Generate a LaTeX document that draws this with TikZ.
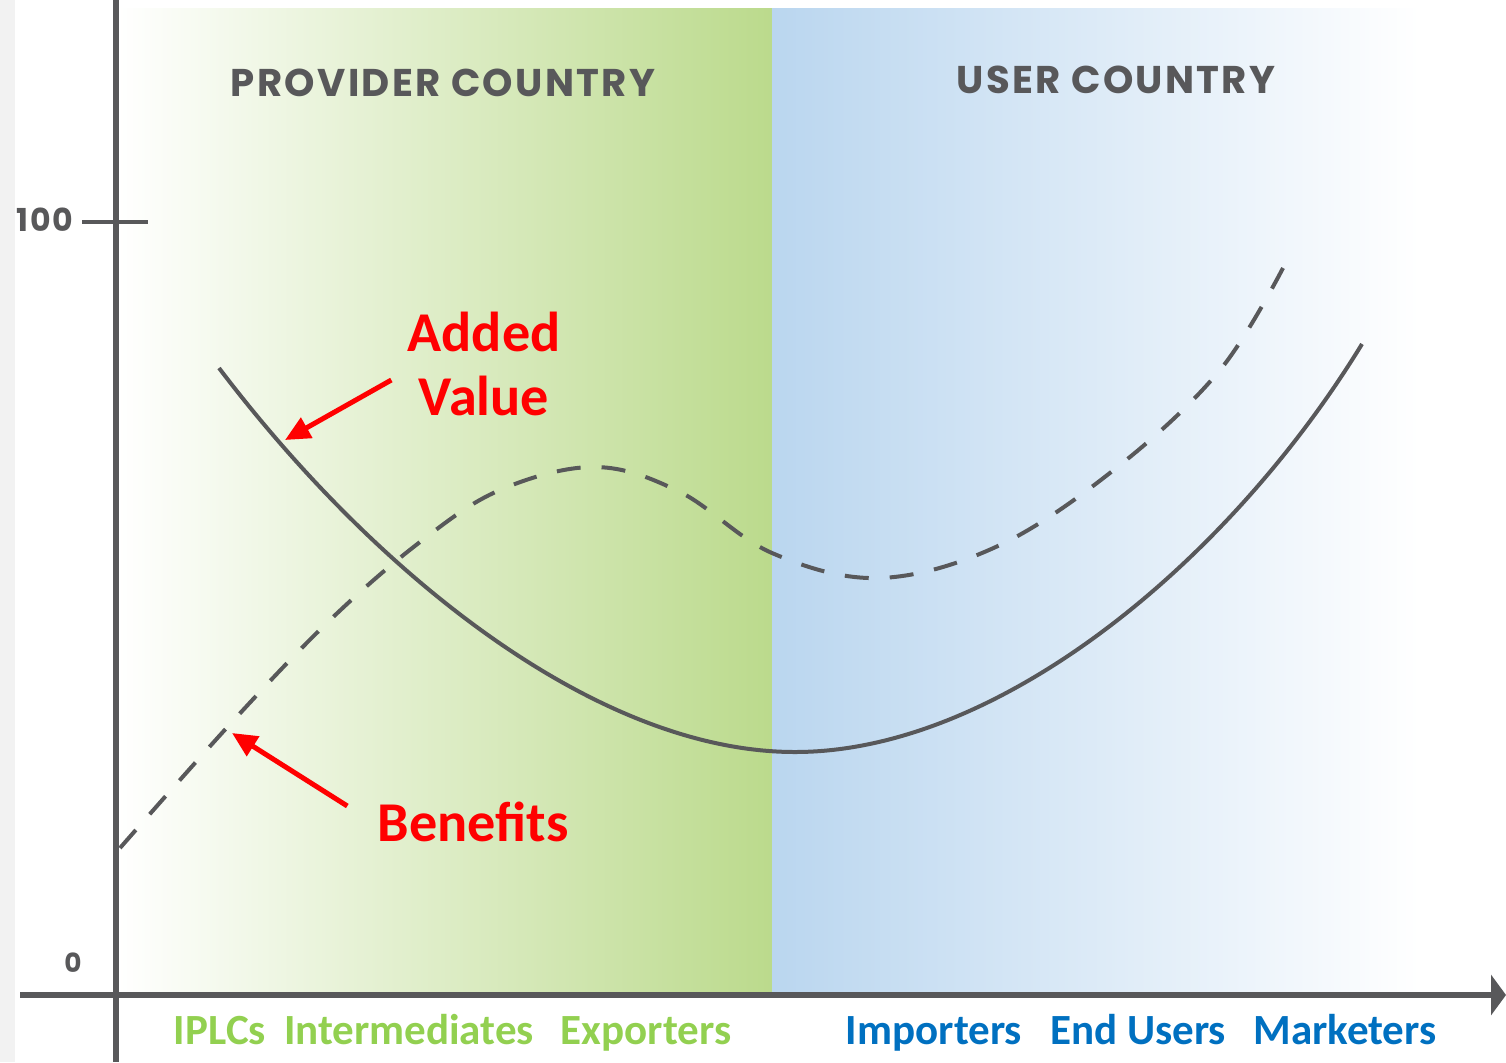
\documentclass[tikz,border=0pt]{standalone}
\usepackage{fontspec}
\setmainfont{Carlito}
\newfontfamily\hdrfont[LetterSpace=6]{Poppins}
\usetikzlibrary{arrows.meta}
\definecolor{axisgray}{HTML}{58585A}
\definecolor{provgreen}{HTML}{BBDA8C}
\definecolor{userblue}{HTML}{BAD6EF}
\definecolor{labgreen}{HTML}{92D050}
\definecolor{labblue}{HTML}{0070C0}
\definecolor{edgegray}{HTML}{F2F2F2}

\begin{document}
\begin{tikzpicture}
[x=0.02cm,y=-0.02cm,
  axisline/.style={draw=axisgray,line width=0.12cm},%
  valuecurve/.style={draw=axisgray,line width=0.08cm},%
  benefitcurve/.style={draw=axisgray,line width=0.08cm,dash pattern=on 0.48cm off 0.42cm},%
  headtext/.style={text=axisgray,font=\hdrfont\bfseries\fontsize{22}{25}\selectfont,anchor=base},%
  ticktext/.style={text=axisgray,font=\hdrfont\bfseries\fontsize{18}{20}\selectfont,anchor=base},%
  redlabel/.style={text=red,font=\bfseries\fontsize{32}{34}\selectfont,align=center},%
  redarrow/.style={draw=red,line width=0.1cm,-{Triangle[length=0.5cm,width=0.45cm]}},%
  stagetext/.style={font=\bfseries\fontsize{24.5}{26}\selectfont,anchor=base}]
\useasboundingbox (0,0) rectangle (1506,1062);
%% background panels
\fill[edgegray] (0,0) rectangle (15,1062);
\shade[left color=white,right color=provgreen] (118,8) rectangle (772,993);
\shade[left color=userblue,right color=white] (772,8) rectangle (1420,993);
%% axes
\draw[axisline] (116,0) -- (116,1062);
\draw[axisline,-{Triangle[length=0.3cm,width=0.8cm]}] (20,995) -- (1506,995);
\draw[axisline,line width=0.09cm] (82,222) -- (148,222);
\node[ticktext] (hundred) at (45,231) {100};
\node[ticktext,font=\hdrfont\bfseries\fontsize{15}{16}\selectfont] (zero) at (73,972) {0};
%% headings
\node[headtext] (provider) at (443,96) {PROVIDER COUNTRY};
\node[headtext] (user) at (1116,93) {USER COUNTRY};
%% curves
\draw[valuecurve] (219,368) .. controls (380,580) and (600,752) .. (795,752)
  .. controls (1000,752) and (1230,560) .. (1362,344);
\draw[benefitcurve] plot[smooth,tension=0.6] coordinates {(120,848) (232,722)
  (330,620) (420,542) (500,490) (595,467) (680,492) (772,553) (880,578)
  (1000,545) (1120,465) (1220,370) (1283,268)};
%% red labels and arrows
\node[redlabel] (addval) at (484,364) {Added\\[2pt]Value};
\node[redlabel] (benefits) at (473,822) {Benefits};
\coordinate (avtip) at (285,440);
\coordinate (bftip) at (232,733);
\draw[redarrow] ([shift={(-10,16)}]addval.west) -- (avtip);
\draw[redarrow] ([shift={(-24,-16)}]benefits.west) -- (bftip);
%% stages along the chain
\foreach \stagename/\x/\stagecolor/\stagetxt in {iplc/220/labgreen/IPLCs,
  inter/409/labgreen/Intermediates, expo/646/labgreen/Exporters,
  impo/934/labblue/Importers, endu/1138/labblue/End Users, mark/1345/labblue/Marketers}
{
  \node[stagetext,text=\stagecolor] (\stagename) at (\x,1044) {\stagetxt};
}
\end{tikzpicture}
\end{document}
